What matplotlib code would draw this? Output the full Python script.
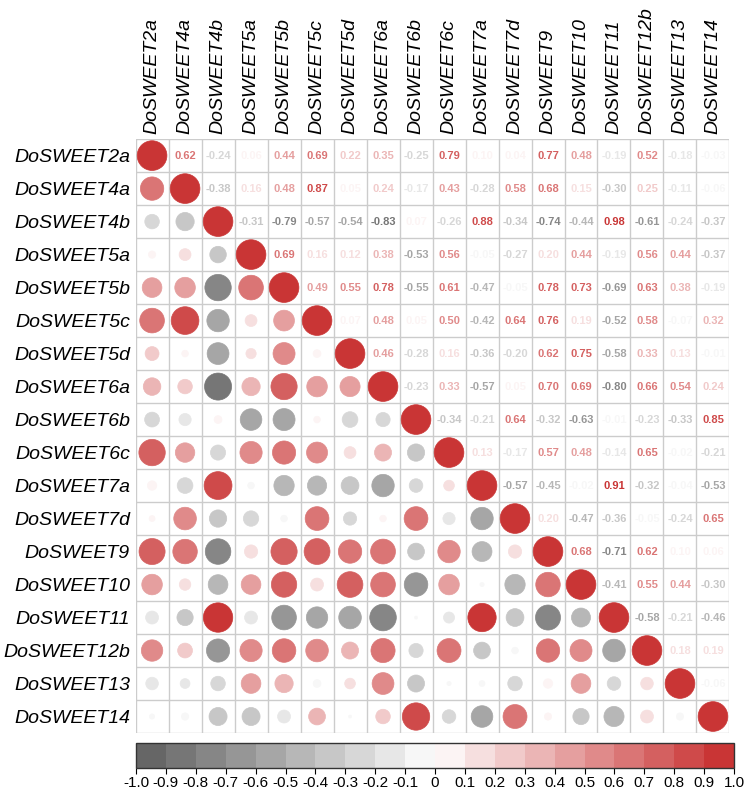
import numpy as np
import matplotlib
matplotlib.use("Agg")
import matplotlib.pyplot as plt
from matplotlib.colors import LinearSegmentedColormap, BoundaryNorm
from matplotlib.patches import Circle
from matplotlib.colorbar import ColorbarBase

genes = ["DoSWEET2a", "DoSWEET4a", "DoSWEET4b", "DoSWEET5a", "DoSWEET5b",
         "DoSWEET5c", "DoSWEET5d", "DoSWEET6a", "DoSWEET6b", "DoSWEET6c",
         "DoSWEET7a", "DoSWEET7d", "DoSWEET9", "DoSWEET10", "DoSWEET11",
         "DoSWEET12b", "DoSWEET13", "DoSWEET14"]

# upper triangle, row by row (values to the right of the diagonal)
upper = [
    [0.62, -0.24, 0.06, 0.44, 0.69, 0.22, 0.35, -0.25, 0.79, 0.10, 0.04, 0.77, 0.48, -0.19, 0.52, -0.18, -0.03],
    [-0.38, 0.16, 0.48, 0.87, 0.05, 0.24, -0.17, 0.43, -0.28, 0.58, 0.68, 0.15, -0.30, 0.25, -0.11, -0.06],
    [-0.31, -0.79, -0.57, -0.54, -0.83, 0.07, -0.26, 0.88, -0.34, -0.74, -0.44, 0.98, -0.61, -0.24, -0.37],
    [0.69, 0.16, 0.12, 0.38, -0.53, 0.56, -0.05, -0.27, 0.20, 0.44, -0.19, 0.56, 0.44, -0.37],
    [0.49, 0.55, 0.78, -0.55, 0.61, -0.47, -0.05, 0.78, 0.73, -0.69, 0.63, 0.38, -0.19],
    [0.07, 0.48, 0.05, 0.50, -0.42, 0.64, 0.76, 0.19, -0.52, 0.58, -0.07, 0.32],
    [0.46, -0.28, 0.16, -0.36, -0.20, 0.62, 0.75, -0.58, 0.33, 0.13, -0.01],
    [-0.23, 0.33, -0.57, 0.05, 0.70, 0.69, -0.80, 0.66, 0.54, 0.24],
    [-0.34, -0.21, 0.64, -0.32, -0.63, -0.01, -0.23, -0.33, 0.85],
    [0.13, -0.17, 0.57, 0.48, -0.14, 0.65, -0.02, -0.21],
    [-0.57, -0.45, -0.02, 0.91, -0.32, -0.04, -0.53],
    [0.20, -0.47, -0.36, -0.05, -0.24, 0.65],
    [0.68, -0.71, 0.62, 0.10, 0.06],
    [-0.41, 0.55, 0.44, -0.30],
    [-0.58, -0.21, -0.46],
    [0.18, 0.19],
    [-0.06],
]

cbar_ticks = np.round(np.arange(-1.0, 1.01, 0.1), 1)
cbar_labels = ["0" if abs(t) < 1e-9 else f"{t:.1f}" for t in cbar_ticks]

n = len(genes)
corr = np.eye(n)
for i, row in enumerate(upper):
    for k, v in enumerate(row):
        j = i + 1 + k
        corr[i, j] = v
        corr[j, i] = v

base = LinearSegmentedColormap.from_list("gr", ["#666666", "#ffffff", "#c93535"])
bounds = np.linspace(-1, 1, 21)
cmap = base.resampled(20)
norm = BoundaryNorm(bounds, cmap.N)

plt.rcParams['font.family'] = ['Liberation Sans', 'DejaVu Sans']

fig = plt.figure(figsize=(7.44, 7.94), dpi=100)
ax = fig.add_axes([0.1815, 0.0768, 0.7997, 0.748])
ax.set_xlim(0, n)
ax.set_ylim(n, 0)
ax.set_aspect("equal")

# grid
for k in range(n + 1):
    ax.plot([k, k], [0, n], color="#cccccc", lw=1.0, zorder=1)
    ax.plot([0, n], [k, k], color="#cccccc", lw=1.0, zorder=1)

for i in range(n):
    for j in range(n):
        v = corr[i, j]
        col = cmap(norm(v))
        if j <= i:
            r = 0.45 * np.sqrt(abs(v))
            ax.add_patch(Circle((j + 0.5, i + 0.5), r, facecolor=col,
                                edgecolor=col, lw=0.5, zorder=2))
        else:
            ax.text(j + 0.5, i + 0.5, f"{v:.2f}", ha="center", va="center",
                    fontsize=8, fontweight="bold", color=col, zorder=3)

ax.set_xticks(np.arange(n) + 0.5)
ax.set_yticks(np.arange(n) + 0.5)
ax.set_xticklabels(genes, rotation=90, fontsize=14, style="italic")
ax.set_yticklabels(genes, fontsize=14, style="italic")
ax.xaxis.tick_top()
ax.tick_params(length=0, pad=4)
for s in ax.spines.values():
    s.set_visible(False)

# colorbar
cax = fig.add_axes([0.1828, 0.0327, 0.8038, 0.0315])
cb = ColorbarBase(cax, cmap=cmap, norm=norm, orientation="horizontal",
                  boundaries=bounds, ticks=cbar_ticks)
cb.set_ticklabels(cbar_labels)
cax.tick_params(labelsize=11, length=4, width=0.8, pad=2)
cb.outline.set_linewidth(1.0)
cb.outline.set_edgecolor("#333333")

fig.savefig("out.png", dpi=100)
